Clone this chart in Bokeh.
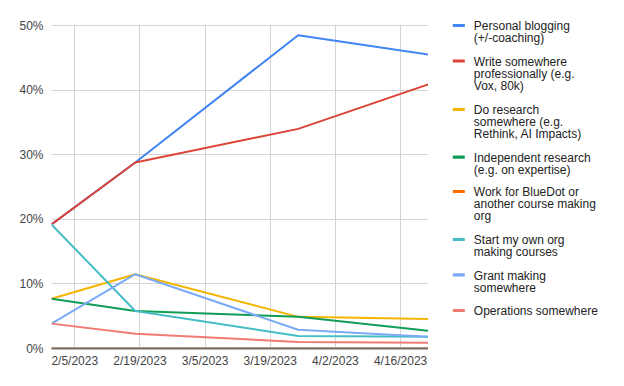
import pandas as pd
from bokeh.plotting import figure
from bokeh.layouts import row
from bokeh.models import (Range1d, FixedTicker, NumeralTickFormatter, Label,
                          BoxAnnotation)
from bokeh.embed import file_html
from bokeh.resources import INLINE

dates = ["2023-01-31", "2023-02-18", "2023-03-25", "2023-04-22"]
personal_blogging = [0.192, 0.288, 0.485, 0.455]
write_professionally = [0.192, 0.288, 0.340, 0.409]
do_research = [0.077, 0.115, 0.049, 0.0455]
independent_research = [0.077, 0.058, 0.049, 0.0275]
work_bluedot = [0.0, 0.0, 0.0, 0.0]
start_own_org = [0.192, 0.058, 0.0195, 0.018]
grant_making = [0.0385, 0.115, 0.029, 0.018]
operations = [0.0385, 0.023, 0.010, 0.009]

series_names = [
    "Personal blogging\n(+/-coaching)",
    "Write somewhere\nprofessionally (e.g.\nVox, 80k)",
    "Do research\nsomewhere (e.g.\nRethink, AI Impacts)",
    "Independent research\n(e.g. on expertise)",
    "Work for BlueDot or\nanother course making\norg",
    "Start my own org\nmaking courses",
    "Grant making\nsomewhere",
    "Operations somewhere",
]
series_values = [personal_blogging, write_professionally, do_research,
                 independent_research, work_bluedot, start_own_org,
                 grant_making, operations]
colors = ["#4285F4", "#DB4437", "#F4B400", "#0F9D58", "#FF6D01",
          "#46BDC6", "#7BAAF7", "#F07B72"]

x_tick_dates = ["2023-02-05", "2023-02-19", "2023-03-05", "2023-03-19",
                "2023-04-02", "2023-04-16"]
x_tick_labels = ["2/5/2023", "2/19/2023", "3/5/2023", "3/19/2023",
                 "4/2/2023", "4/16/2023"]
y_ticks = [0.0, 0.1, 0.2, 0.3, 0.4, 0.5]

def ms(d):
    return pd.Timestamp(d).value / 1e6

x = pd.to_datetime(dates)

# frame spans canvas top..348px; the 50% line sits 25px below the top
FRAME_H, TOP_GAP = 348.0, 25.0
y_top = y_ticks[-1] * FRAME_H / (FRAME_H - TOP_GAP)

p = figure(width=428, height=386, x_axis_type="datetime",
           output_backend="svg", toolbar_location=None,
           x_range=Range1d(ms(dates[0]), ms(dates[-1])),
           y_range=Range1d(0, y_top),
           min_border_left=51, min_border_top=0, min_border_bottom=38,
           min_border_right=0)
p.outline_line_color = None
p.background_fill_color = "white"
p.border_fill_color = "white"

for vals, c in zip(series_values, colors):
    lvl = "underlay" if max(vals) == 0 else "glyph"
    p.line(x, vals, line_color=c, line_width=2, level=lvl)

# white mask above the top gridline (grid only spans 0..50%)
px_per_unit = (FRAME_H - TOP_GAP) / y_ticks[-1]
p.add_layout(BoxAnnotation(bottom=y_ticks[-1] + 1.0 / px_per_unit,
                           fill_color="white", fill_alpha=1,
                           line_color=None, level="glyph"))

xt = [ms(d) for d in x_tick_dates]
p.xaxis.ticker = FixedTicker(ticks=xt)
p.xaxis.major_label_overrides = {t: l for t, l in zip(xt, x_tick_labels)}
p.xgrid.ticker = FixedTicker(ticks=xt)
p.yaxis.ticker = FixedTicker(ticks=y_ticks)
p.ygrid.ticker = FixedTicker(ticks=y_ticks)
p.yaxis.formatter = NumeralTickFormatter(format="0%")

for ax in (p.xaxis[0], p.yaxis[0]):
    ax.axis_line_color = None
    ax.major_tick_line_color = None
    ax.minor_tick_line_color = None
    ax.major_tick_out = 0
    ax.major_tick_in = 0
    ax.minor_tick_out = 0
    ax.major_label_text_font = "Liberation Sans"
    ax.major_label_text_font_size = "12px"
    ax.major_label_text_color = "#444444"
p.xaxis.axis_line_color = "#707070"
p.xaxis.axis_line_width = 2
p.xaxis.major_label_standoff = 5
p.yaxis.major_label_standoff = 8

p.grid.grid_line_color = "#d4d4d4"
p.grid.grid_line_width = 1

# legend panel: a second figure (frame aligned with the chart's frame)
lg = figure(width=196, height=386, output_backend="svg",
            toolbar_location=None, x_axis_location=None,
            y_axis_location=None, x_range=Range1d(0, 196),
            y_range=Range1d(0, 386), min_border=0)
lg.outline_line_color = None
lg.grid.visible = False
lg.background_fill_color = "white"
lg.border_fill_color = "white"

legend_first_line_y = [25.0, 60.5, 109.0, 156.7, 191.0, 239.0, 274.3, 310.0]
LINE_PITCH = 12.0
sw_left, sw_right, text_x = 24.3, 36.3, 45.3
for name, c, py in zip(series_names, colors, legend_first_line_y):
    yy = FRAME_H - py
    lg.add_layout(BoxAnnotation(left=sw_left, right=sw_right,
                                top=yy + 1.6, bottom=yy - 1.6,
                                left_units="screen", right_units="screen",
                                top_units="screen", bottom_units="screen",
                                fill_color=c, fill_alpha=1, line_color=None))
    for k, line in enumerate(name.split("\n")):
        lg.add_layout(Label(x=text_x, y=yy - 0.8 - k * LINE_PITCH,
                            x_units="screen", y_units="screen", text=line,
                            text_font="Liberation Sans",
                            text_font_size="12px", text_color="#222222",
                            text_baseline="middle", text_align="left"))

layout = row(p, lg, spacing=0)
open("out.html", "w").write(file_html(layout, INLINE))
